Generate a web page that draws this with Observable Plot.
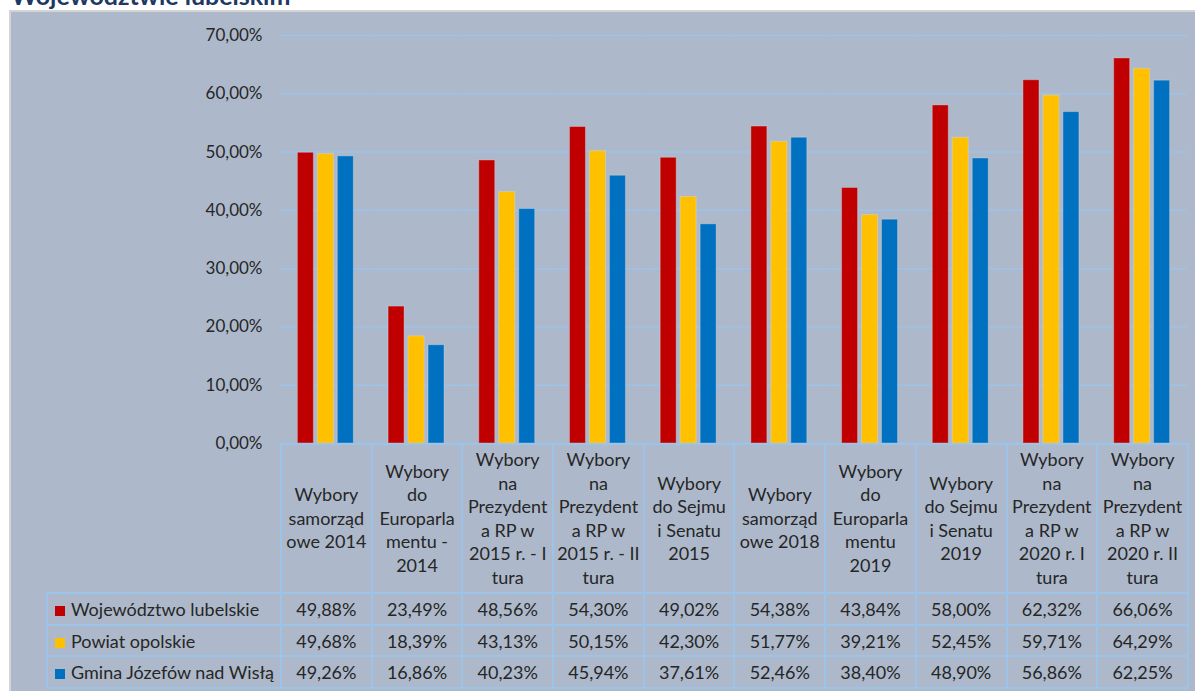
<!DOCTYPE html>
<html>
<head>
<meta charset="utf-8">
<script src="https://cdn.jsdelivr.net/npm/d3@7"></script>
<script src="https://cdn.jsdelivr.net/npm/@observablehq/plot@0.6"></script>
<style>
  html, body { margin: 0; padding: 0; }
  body { width: 1195px; height: 691px; overflow: hidden; position: relative; background: #fff; font-family: Lato, "Open Sans", sans-serif; color: #262626; }
  #title { position: absolute; left: 11px; top: -20px; font: bold 25px/1.2 Lato, sans-serif; color: #203864; white-space: nowrap; }
  #frame { position: absolute; left: 9px; top: 10px; width: 1186px; height: 681px; background: #adb9ca; border-left: 2px solid #d4d4d4; border-top: 2px solid #d4d4d4; box-sizing: border-box; }
  #chart { position: absolute; left: 0; top: 0; }
  #chart svg { overflow: visible; background: transparent; }
  table { position: absolute; left: 46px; top: 443px; border-collapse: collapse; table-layout: fixed; font-size: 18px; color: #262626; }
  td { border: 2px solid #9cc3e8; text-align: center; vertical-align: middle; padding: 0; }
  td.empty { border: none; }
  thead td { height: 147px; line-height: 23.5px; white-space: pre-line; }
  tbody td { height: 29.7px; }
  td.leg { text-align: left; padding-left: 7px; white-space: nowrap; }
  .sw { display: inline-block; width: 10px; height: 10px; margin-right: 6px; vertical-align: 0px; }
</style>
</head>
<body>
<div id="title">Województwie lubelskim</div>
<div id="frame"></div>
<div id="chart"></div>
<script>
// ---- data ----
const categories = [
  "Wybory\nsamorząd\nowe 2014",
  "Wybory\ndo\nEuroparla\nmentu -\n2014",
  "Wybory\nna\nPrezydent\na RP w\n2015 r. - I\ntura",
  "Wybory\nna\nPrezydent\na RP w\n2015 r. - II\ntura",
  "Wybory\ndo Sejmu\ni Senatu\n2015",
  "Wybory\nsamorząd\nowe 2018",
  "Wybory\ndo\nEuroparla\nmentu\n2019",
  "Wybory\ndo Sejmu\ni Senatu\n2019",
  "Wybory\nna\nPrezydent\na RP w\n2020 r. I\ntura",
  "Wybory\nna\nPrezydent\na RP w\n2020 r. II\ntura"
];
const series = ["Województwo lubelskie", "Powiat opolskie", "Gmina Józefów nad Wisłą"];
const seriesColors = ["#c00000", "#ffc000", "#0070c0"];
const wojewodztwo = [49.88, 23.49, 48.56, 54.30, 49.02, 54.38, 43.84, 58.00, 62.32, 66.06];
const powiat      = [49.68, 18.39, 43.13, 50.15, 42.30, 51.77, 39.21, 52.45, 59.71, 64.29];
const gmina       = [49.26, 16.86, 40.23, 45.94, 37.61, 52.46, 38.40, 48.90, 56.86, 62.25];
const yTicks = [0, 10, 20, 30, 40, 50, 60, 70];

const fmt = v => v.toFixed(2).replace(".", ",") + "%";
const valuesBySeries = [wojewodztwo, powiat, gmina];
const rows = [];
categories.forEach((c, i) => series.forEach((s, j) => rows.push({cat: c, series: s, value: valuesBySeries[j][i]})));

const plot = Plot.plot({
  width: 1195,
  height: 445,
  marginLeft: 280,
  marginRight: 8,
  marginTop: 35,
  marginBottom: 2,
  style: {background: "transparent", fontFamily: "Lato, sans-serif", fontSize: "17px", color: "#262626"},
  fx: {domain: categories, padding: 0, round: false, axis: null},
  x: {domain: series, paddingInner: 0.2, paddingOuter: 0.87, round: false, axis: null},
  y: {domain: [0, 70], axis: null},
  color: {domain: series, range: seriesColors},
  marks: [
    Plot.gridY(yTicks, {stroke: "#9cc3e8", strokeOpacity: 1, strokeWidth: 1.5}),
    Plot.barY(rows, {fx: "cat", x: "series", y: "value", fill: "series", stroke: "#e0e0e0", strokeOpacity: 0.35, strokeWidth: 1}),
    Plot.axisY(yTicks, {label: null, tickSize: 0, tickPadding: 18, tickFormat: fmt, fill: "#262626", fontSize: 17})
  ]
});
document.getElementById("chart").appendChild(plot);

// ---- data table below the chart ----
const table = document.createElement("table");
const colgroup = document.createElement("colgroup");
const c0 = document.createElement("col"); c0.style.width = "234px"; colgroup.appendChild(c0);
categories.forEach(() => { const c = document.createElement("col"); c.style.width = "90.7px"; colgroup.appendChild(c); });
table.appendChild(colgroup);
const thead = document.createElement("thead");
const hr = document.createElement("tr");
const e = document.createElement("td"); e.className = "empty"; hr.appendChild(e);
categories.forEach(c => { const td = document.createElement("td"); td.textContent = c; hr.appendChild(td); });
thead.appendChild(hr); table.appendChild(thead);
const tbody = document.createElement("tbody");
series.forEach((s, j) => {
  const tr = document.createElement("tr");
  const lt = document.createElement("td"); lt.className = "leg";
  const sw = document.createElement("span"); sw.className = "sw"; sw.style.background = seriesColors[j];
  lt.appendChild(sw); lt.appendChild(document.createTextNode(s));
  tr.appendChild(lt);
  valuesBySeries[j].forEach(v => { const td = document.createElement("td"); td.textContent = fmt(v); tr.appendChild(td); });
  tbody.appendChild(tr);
});
table.appendChild(tbody);
document.body.appendChild(table);
</script>
</body>
</html>
